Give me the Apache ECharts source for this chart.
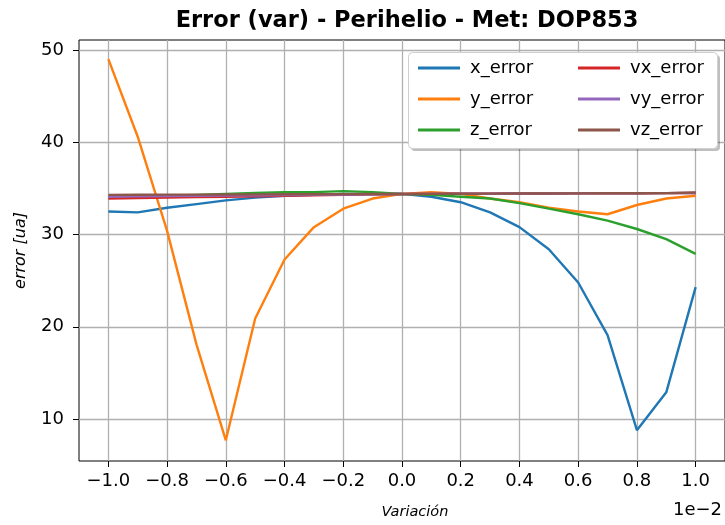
<!DOCTYPE html>
<html>
<head>
<meta charset="utf-8">
<script src="https://cdn.jsdelivr.net/npm/echarts@6/dist/echarts.min.js"></script>
<style>html,body{margin:0;padding:0;background:#fff}#c{width:725px;height:525px}</style>
</head>
<body>
<div id="c"></div>
<script>
// Variation values (x 1e-2)
const variacion = [-1.0,-0.9,-0.8,-0.7,-0.6,-0.5,-0.4,-0.3,-0.2,-0.1,0.0,0.1,0.2,0.3,0.4,0.5,0.6,0.7,0.8,0.9,1.0];
const xError  = [32.5,32.4,32.9,33.3,33.7,34.0,34.2,34.3,34.4,34.4,34.4,34.1,33.5,32.4,30.8,28.4,24.8,19.1,8.8,12.9,24.3];
const yError  = [49.0,40.6,30.4,18.1,7.7,20.9,27.3,30.8,32.8,33.9,34.4,34.6,34.4,33.9,33.5,32.9,32.5,32.2,33.2,33.9,34.2];
const zError  = [34.0,34.1,34.2,34.3,34.4,34.5,34.6,34.6,34.7,34.6,34.4,34.3,34.1,33.9,33.4,32.8,32.2,31.5,30.6,29.5,27.9];
const vxError = [33.9,33.95,34.0,34.05,34.1,34.15,34.2,34.25,34.3,34.35,34.4,34.41,34.42,34.43,34.44,34.45,34.46,34.47,34.48,34.49,34.5];
const vyError = [34.1,34.13,34.16,34.19,34.22,34.25,34.28,34.31,34.34,34.37,34.4,34.41,34.42,34.43,34.44,34.45,34.46,34.47,34.48,34.49,34.5];
const vzError = [34.3,34.31,34.32,34.33,34.34,34.35,34.36,34.37,34.38,34.39,34.4,34.41,34.42,34.43,34.44,34.45,34.46,34.47,34.48,34.49,34.55];
const xTicks = [-1.0,-0.8,-0.6,-0.4,-0.2,0.0,0.2,0.4,0.6,0.8,1.0];
const yTicks = [10,20,30,40,50];
const seriesNames = ['x_error','y_error','z_error','vx_error','vy_error','vz_error'];
const colors = ['#1f77b4','#ff7f0e','#2ca02c','#d62728','#9467bd','#8c564b'];
const allData = [xError,yError,zError,vxError,vyError,vzError];

const FONT = 'DejaVu Sans';
const chart = echarts.init(document.getElementById('c'), null, {renderer:'canvas'});
const fmtX = v => v.toFixed(1).replace('-', '\u2212');

const option = {
  animation: false,
  backgroundColor: '#fff',
  title: {
    text: 'Error (var) - Perihelio - Met: DOP853',
    left: 402, top: 5, textAlign: 'center',
    textStyle: {fontFamily: FONT, fontWeight: 'bold', fontSize: 22.5, color: '#000'}
  },
  grid: {left: 79, top: 40, width: 648, height: 422, show: true, borderColor: '#000', borderWidth: 1, backgroundColor: 'transparent'},
  xAxis: {
    type: 'value', min: -1.1, max: 1.1,
    name: 'Variación', nameLocation: 'middle', nameGap: 44,
    nameTextStyle: {fontFamily: FONT, fontStyle: 'italic', fontSize: 14.5, color: '#000', padding: [0,0,0,26]},
    axisLine: {show: false, onZero: false},
    axisTick: {show: true, customValues: xTicks, length: 6, lineStyle: {color: '#000', width: 1}},
    axisLabel: {customValues: xTicks, formatter: fmtX, fontFamily: FONT, fontSize: 18, color: '#000', margin: 11},
    splitLine: {show: true, lineStyle: {color: '#b0b0b0', width: 1.3}}
  },
  yAxis: {
    type: 'value', min: 5.46, max: 51.08,
    name: 'error [ua]', nameLocation: 'middle', nameGap: 50, nameRotate: 90,
    nameTextStyle: {fontFamily: FONT, fontStyle: 'italic', fontSize: 16, color: '#000'},
    axisLine: {show: false, onZero: false},
    axisTick: {show: true, customValues: yTicks, length: 6, lineStyle: {color: '#000', width: 1}},
    axisLabel: {customValues: yTicks, fontFamily: FONT, fontSize: 18, color: '#000', margin: 15},
    splitLine: {show: true, lineStyle: {color: '#b0b0b0', width: 1.3}}
  },
  legend: [
    {data: seriesNames.slice(0,3), orient: 'vertical', left: 413, top: 53, itemWidth: 42, itemHeight: 3, icon: 'rect', itemGap: 11,
     textStyle: {fontFamily: FONT, fontSize: 18, lineHeight: 20, color: '#000', padding: [0,0,0,5]}, z: 10},
    {data: seriesNames.slice(3), orient: 'vertical', left: 573, top: 53, itemWidth: 42, itemHeight: 3, icon: 'rect', itemGap: 11,
     textStyle: {fontFamily: FONT, fontSize: 18, lineHeight: 20, color: '#000', padding: [0,0,0,5]}, z: 10}
  ],
  graphic: [
    {type: 'rect', left: 411, top: 55, z: 5, shape: {width: 309, height: 96, r: 4},
     style: {fill: 'rgba(0,0,0,0.25)'}},
    {type: 'rect', left: 408, top: 52, z: 6, shape: {width: 309, height: 96, r: 4},
     style: {fill: '#fff', stroke: '#d0d0d0', lineWidth: 1}},
    {type: 'text', right: 3, top: 501, z: 6, style: {text: '1e\u22122', fontFamily: FONT, fontSize: 18, fill: '#000'}}
  ],
  series: seriesNames.map((n, i) => ({
    name: n, type: 'line', data: variacion.map((x, j) => [x, allData[i][j]]),
    symbol: 'none', color: colors[i], lineStyle: {width: 2.4, color: colors[i]}, z: 2 + i * 0.01
  }))
};
chart.setOption(option);
</script>
</body>
</html>
